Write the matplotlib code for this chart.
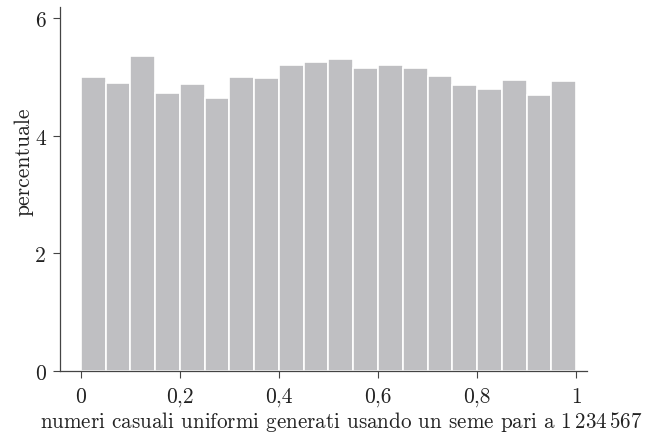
import numpy as np
import matplotlib
matplotlib.use("Agg")
import matplotlib.pyplot as plt

plt.rcParams['font.family'] = ['cmr10', 'DejaVu Serif']
plt.rcParams['mathtext.fontset'] = 'cm'
plt.rcParams['axes.formatter.use_mathtext'] = True

# percentuale per ciascuno dei 20 intervalli [0, 1]
bin_edges = np.linspace(0, 1, 21)
percent = [5.00, 4.89, 5.36, 4.72, 4.88, 4.64, 5.00, 4.98, 5.20, 5.26,
           5.31, 5.16, 5.20, 5.16, 5.02, 4.86, 4.80, 4.95, 4.69, 4.94]
x_ticks = [0, 0.2, 0.4, 0.6, 0.8, 1]
x_labels = ['0', '0,2', '0,4', '0,6', '0,8', '1']
y_ticks = [0, 2, 4, 6]

fig = plt.figure(figsize=(6.49, 4.35), dpi=100, facecolor='w')
ax = fig.add_axes([0.0924, 0.1448, 0.8121, 0.8368])

ax.bar(bin_edges[:-1], percent, width=np.diff(bin_edges), align='edge',
       color='#bfbfc2', edgecolor='white', linewidth=1.2)

ax.set_xlim(-0.0424, 1.0222)
ax.set_ylim(0, 6.19)

for side in ('top', 'right'):
    ax.spines[side].set_visible(False)
for side in ('left', 'bottom'):
    ax.spines[side].set_color('#444444')
    ax.spines[side].set_linewidth(0.9)

ax.set_xticks(x_ticks, labels=x_labels)
ax.set_yticks(y_ticks, labels=[str(v) for v in y_ticks])
ax.tick_params(direction='out', length=5, width=0.8, color='#444444',
               labelsize=15.5, labelcolor='#222222', pad=5)
ax.tick_params(axis='x', pad=6.5)

ax.set_xlabel(r'numeri casuali uniformi generati usando un seme pari a $1\,234\,567$',
              fontsize=15.2, color='#222222', labelpad=1.5, x=0.533)
ax.set_ylabel('percentuale', fontsize=15.5, color='#222222')
ax.yaxis.set_label_coords(-0.051, 0.577)

fig.savefig('out.png', dpi=100)
